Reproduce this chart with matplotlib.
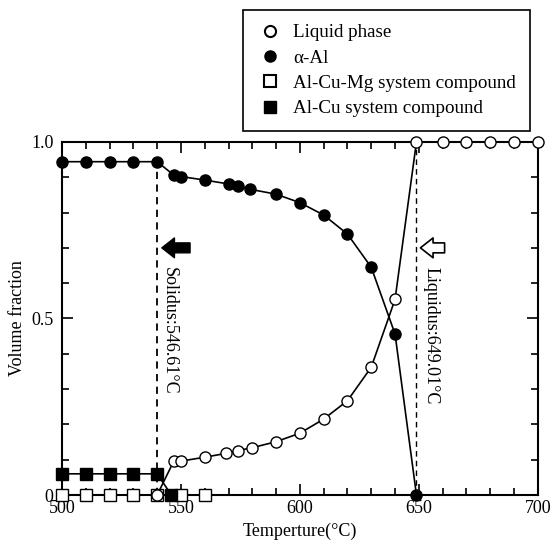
import matplotlib
matplotlib.use('Agg')
import matplotlib.pyplot as plt
from matplotlib.lines import Line2D
from matplotlib.ticker import MultipleLocator

plt.rcParams['font.family'] = ['Liberation Serif', 'DejaVu Serif']
plt.rcParams['font.size'] = 13

# data
liq_t = [540, 547, 550, 560, 569, 574, 580, 590, 600, 610, 620, 630, 640, 649, 660, 670, 680, 690, 700]
liq_v = [0.0, 0.096, 0.096, 0.107, 0.118, 0.126, 0.134, 0.151, 0.175, 0.215, 0.267, 0.362, 0.554, 1.0, 1.0, 1.0, 1.0, 1.0, 1.0]

al_t = [500, 510, 520, 530, 540, 547, 550, 560, 570, 574, 579, 590, 600, 610, 620, 630, 640, 649]
al_v = [0.944, 0.944, 0.944, 0.944, 0.944, 0.906, 0.902, 0.892, 0.881, 0.875, 0.866, 0.852, 0.828, 0.793, 0.739, 0.645, 0.456, 0.0]

cumg_t = [500, 510, 520, 530, 540, 550, 560]
cumg_v = [0, 0, 0, 0, 0, 0, 0]

cu_t = [500, 510, 520, 530, 540, 546]
cu_v = [0.06, 0.06, 0.06, 0.06, 0.06, 0.0]

solidus_t = 540
liquidus_t = 649

fig = plt.figure(figsize=(5.51, 5.48), dpi=100)
ax = fig.add_axes([0.1125, 0.0967, 0.8635, 0.6443])

ms = 8
ax.plot(cumg_t, cumg_v, '-s', color='black', mfc='white', mec='black', ms=ms, lw=1.2, clip_on=False, zorder=3)
ax.plot(cu_t, cu_v, '-s', color='black', mfc='black', ms=ms, lw=1.2, clip_on=False, zorder=3)
ax.plot(al_t, al_v, '-o', color='black', mfc='black', ms=ms, lw=1.2, clip_on=False, zorder=4)
ax.plot(liq_t, liq_v, '-o', color='black', mfc='white', mec='black', ms=ms, lw=1.2, clip_on=False, zorder=5)

# solidus / liquidus
ax.plot([solidus_t, solidus_t], [0, 0.944], '--', color='black', lw=1.3, dashes=(4, 3))
ax.plot([liquidus_t, liquidus_t], [0, 1.0], '--', color='black', lw=1.0, dashes=(4, 3))

ax.annotate('', xy=(solidus_t + 0.8, 0.70), xytext=(555, 0.70),
            arrowprops=dict(arrowstyle='simple,head_width=1.1,head_length=0.7,tail_width=0.55',
                            fc='black', ec='black'))
ax.annotate('', xy=(liquidus_t + 0.5, 0.70), xytext=(662, 0.70),
            arrowprops=dict(arrowstyle='simple,head_width=1.1,head_length=0.7,tail_width=0.55',
                            fc='white', ec='black', lw=1.2))
ax.text(545, 0.645, 'Solidus:546.61°C', rotation=-90, ha='center', va='top')
ax.text(655, 0.645, 'Liquidus:649.01°C', rotation=-90, ha='center', va='top')

ax.set_xlim(500, 700)
ax.set_ylim(0, 1.0)
ax.xaxis.set_major_locator(MultipleLocator(50))
ax.xaxis.set_minor_locator(MultipleLocator(10))
ax.yaxis.set_major_locator(MultipleLocator(0.5))
ax.yaxis.set_minor_locator(MultipleLocator(0.1))
ax.set_yticks([0, 0.5, 1.0])
ax.set_yticklabels(['0', '0.5', '1.0'])
ax.tick_params(which='both', direction='in', top=True, right=True, width=1.2)
ax.tick_params(which='major', length=8)
ax.tick_params(which='minor', length=5)
ax.tick_params(axis='y', pad=6)
for s in ax.spines.values():
    s.set_linewidth(1.5)

ax.set_xlabel('Temperture(°C)')
ax.set_ylabel('Volume fraction')

handles = [
    Line2D([], [], ls='none', marker='o', mfc='white', mec='black', ms=ms, mew=1.5),
    Line2D([], [], ls='none', marker='o', mfc='black', mec='black', ms=ms),
    Line2D([], [], ls='none', marker='s', mfc='white', mec='black', ms=ms, mew=1.5),
    Line2D([], [], ls='none', marker='s', mfc='black', mec='black', ms=ms),
]
labels = ['Liquid phase', 'α-Al', 'Al-Cu-Mg system compound', 'Al-Cu system compound']
leg = fig.legend(handles, labels, loc='upper left', bbox_to_anchor=(243 / 551, 1 - 10 / 548),
                 borderaxespad=0, frameon=True, fancybox=False, edgecolor='black', framealpha=1,
                 fontsize=13.7, handlelength=1.4, handletextpad=0.5, labelspacing=0.42,
                 borderpad=0.74)
leg.get_frame().set_linewidth(1.2)

fig.savefig('out.png', dpi=100)
